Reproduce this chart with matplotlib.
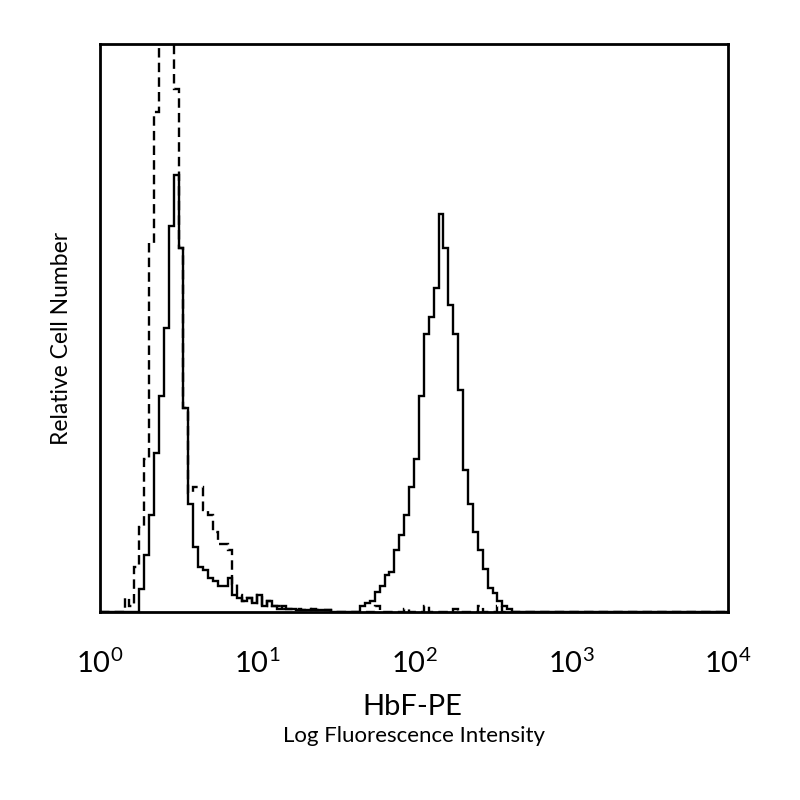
import numpy as np
import matplotlib
matplotlib.use("Agg")
import matplotlib.pyplot as plt

plt.rcParams['font.family'] = ['Lato', 'DejaVu Sans']
plt.rcParams['mathtext.fontset'] = 'custom'
plt.rcParams['mathtext.rm'] = 'Lato'

# 128 channels over 4 decades (32 per decade)
n_bins = 128
log_edges = np.linspace(0, 4, n_bins + 1)

# solid histogram (HbF-PE stained), counts starting at channel 8
solid_start = 8
solid_counts = [4, 10, 17, 28, 38, 50, 68, 77, 64, 36, 19, 11.5, 8, 7.4, 6, 5.5,
                4.5, 4.5, 6, 3, 2.5, 2, 2.5, 1.5, 3, 1, 2, 1, 0.5, 1, 0.5, 0.5,
                0.3, 0.3, 0.3, 0.5, 0.3, 0.3, 0.3, 0, 0, 0, 0, 0, 0, 1,
                1.5, 2, 3.5, 4.5, 6.5, 7, 11, 13.5, 17, 22, 27, 38, 49, 52, 57,
                70, 64, 54, 49, 39, 25, 19, 14, 11, 7.5, 4.2, 3.3, 2, 1, 0.5]

# dashed histogram (isotype control), counts starting at channel 5
dashed_start = 5
dashed_counts = [2.5, 1, 8, 15, 27, 65, 88, 100, 100, 100, 92, 64, 36, 21,
                 22, 22, 18, 17, 14, 12, 12, 11, 5, 3, 2, 2.5, 1.5, 3, 1, 2,
                 1, 1, 0.5, 0.5, 0.5, 0.5, 0.3, 0.5, 0.3, 0.3, 0.3, 0.3,
                 0, 0, 0, 0, 0, 0, 0, 0, 0, 1, 0, 0, 0, 0, 0, 0.5, 0, 0, 0,
                 1, 0, 0, 0, 0, 0, 0.5, 0, 0, 0, 0, 1, 0, 0, 0, 1]

tick_values = [1, 10, 100, 1000, 10000]
tick_labels = ['$10^{0}$', '$10^{1}$', '$10^{2}$', '$10^{3}$', '$10^{4}$']


def full(counts, start):
    arr = np.zeros(n_bins)
    arr[start:start + len(counts)] = counts
    return arr


fig = plt.figure(figsize=(8, 8), dpi=100)
ax = fig.add_axes([0.125, 0.235, 0.785, 0.71])

edges = 10 ** log_edges
ax.stairs(full(dashed_counts, dashed_start), edges, color='black',
          linewidth=1.7, linestyle=(0, (4, 2.2)))
ax.stairs(full(solid_counts, solid_start), edges, color='black', linewidth=1.7)

ax.set_xscale('log')
ax.set_xlim(1, 10000)
ax.set_ylim(0, 100)
ax.set_yticks([])
ax.minorticks_off()
ax.set_xticks(tick_values)
ax.set_xticklabels(tick_labels, fontsize=21)
ax.tick_params(axis='x', length=0, pad=26)
ax.yaxis.set_tick_params(length=0)
for sp in ax.spines.values():
    sp.set_linewidth(2)

fig.text(0.516, 1 - 707 / 800, 'HbF-PE', ha='center', va='center', fontsize=21)
fig.text(0.517, 1 - 736 / 800, 'Log Fluorescence Intensity', ha='center',
         va='center', fontsize=16)
fig.text(61 / 800, 1 - 338 / 800, 'Relative Cell Number', ha='center',
         va='center', rotation=90, fontsize=16.5)

fig.savefig('out.png', dpi=100, facecolor='white')
